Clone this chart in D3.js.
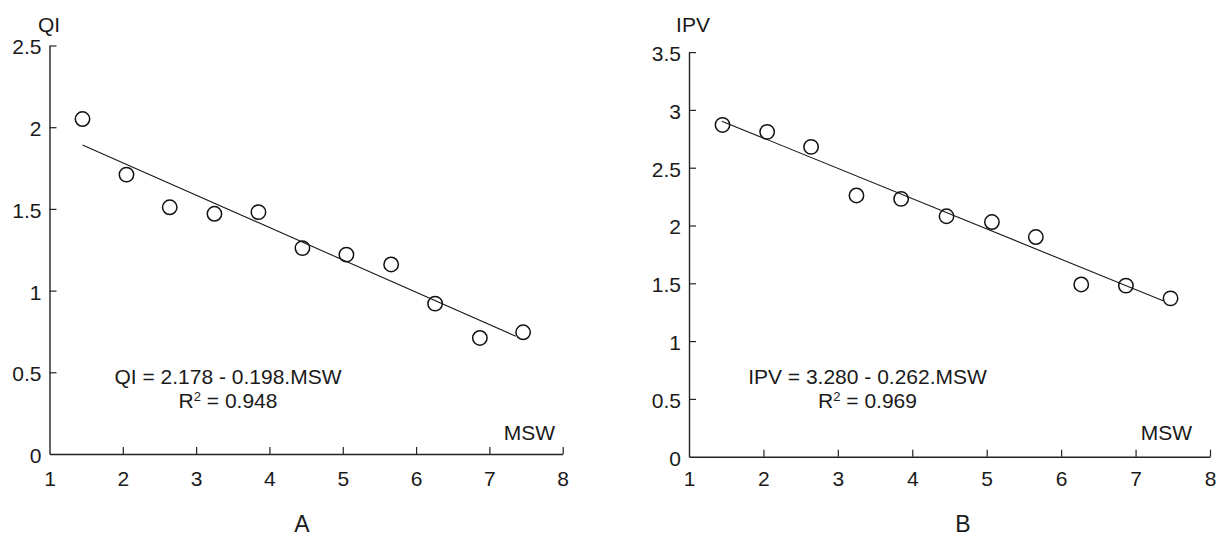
<!DOCTYPE html>
<html>
<head>
<meta charset="utf-8">
<script src="https://cdn.jsdelivr.net/npm/d3@7"></script>
<style>
  html, body { margin: 0; padding: 0; background: #fff; }
  svg { display: block; font-family: "Liberation Sans", Arial, sans-serif; }
  text { fill: #1a1a1a; }
</style>
</head>
<body>
<svg id="chart" width="1219" height="536"></svg>
<script>
// ---- data ----
const mswA = [1.45, 2.05, 2.64, 3.25, 3.85, 4.45, 5.05, 5.66, 6.26, 6.87, 7.46];
const qiValues = [2.05, 1.71, 1.51, 1.47, 1.48, 1.26, 1.22, 1.16, 0.92, 0.71, 0.745];
const mswB = [1.45, 2.05, 2.64, 3.25, 3.85, 4.46, 5.07, 5.66, 6.27, 6.87, 7.47];
const ipvValues = [2.87, 2.81, 2.68, 2.26, 2.23, 2.08, 2.03, 1.90, 1.49, 1.48, 1.37];
const xTicks = [1, 2, 3, 4, 5, 6, 7, 8];
const yTicksA = [0, 0.5, 1, 1.5, 2, 2.5];
const yTicksB = [0, 0.5, 1, 1.5, 2, 2.5, 3, 3.5];
const fitA = { a: 2.178, b: -0.198, from: 1.45, to: 7.36 };
const fitB = { a: 3.280, b: -0.262, from: 1.44, to: 7.37 };
const eqA = "QI = 2.178 - 0.198.MSW";
const r2A = "0.948";
const eqB = "IPV = 3.280 - 0.262.MSW";
const r2B = "0.969";

const svg = d3.select("#chart");
const FS = "21px";

function panel(cfg) {
  const x = d3.scaleLinear().domain([1, 8]).range(cfg.xRange);
  const y = d3.scaleLinear().domain(cfg.yDomain).range(cfg.yRange);
  const g = svg.append("g");

  const xAxis = d3.axisBottom(x).tickValues(xTicks).tickFormat(d3.format("d"))
    .tickSizeInner(-7).tickSizeOuter(0).tickPadding(cfg.xPad);
  const yAxis = d3.axisLeft(y).tickValues(cfg.yTicks).tickFormat(d => String(d))
    .tickSizeInner(-7).tickSizeOuter(0).tickPadding(8);

  const gx = g.append("g").attr("transform", `translate(0,${cfg.yRange[0]})`).call(xAxis);
  const gy = g.append("g").attr("transform", `translate(${cfg.xRange[0]},0)`).call(yAxis);
  [gx, gy].forEach(a => {
    a.selectAll("path.domain").attr("stroke", "#222").attr("stroke-width", 1.4);
    a.selectAll(".tick line").attr("stroke", "#222").attr("stroke-width", 1.2);
    a.selectAll(".tick text").style("font-size", FS).style("font-family", "Liberation Sans, Arial, sans-serif").attr("fill", "#1a1a1a");
  });
  gy.selectAll(".tick text").attr("dy", "0.40em");
  gx.selectAll(".tick").filter(d => d === 1).select("line").remove();
  gy.selectAll(".tick").filter(d => d === 0).select("line").remove();

  // regression line
  g.append("line")
    .attr("x1", x(cfg.fit.from)).attr("y1", y(cfg.fit.a + cfg.fit.b * cfg.fit.from))
    .attr("x2", x(cfg.fit.to)).attr("y2", y(cfg.fit.a + cfg.fit.b * cfg.fit.to))
    .attr("stroke", "#1a1a1a").attr("stroke-width", 1.1);

  // points
  g.selectAll("circle").data(cfg.xs.map((v, i) => [v, cfg.ys[i]])).join("circle")
    .attr("cx", d => x(d[0])).attr("cy", d => y(d[1])).attr("r", 7.2)
    .attr("fill", "none").attr("stroke", "#111").attr("stroke-width", 1.5);

  // axis labels
  g.append("text").attr("x", cfg.yLabelX).attr("y", 32).attr("text-anchor", "middle")
    .style("font-size", FS).text(cfg.yLabel);
  g.append("text").attr("x", cfg.mswX).attr("y", 440).attr("text-anchor", "end")
    .style("font-size", FS).text("MSW");

  // equation
  g.append("text").attr("x", cfg.eqX).attr("y", 384).attr("text-anchor", "middle")
    .style("font-size", FS).text(cfg.eq);
  const r = g.append("text").attr("x", cfg.eqX).attr("y", 408).attr("text-anchor", "middle")
    .style("font-size", FS);
  r.append("tspan").text("R");
  r.append("tspan").attr("dy", -7).style("font-size", "13px").text("2");
  r.append("tspan").attr("dy", 7).text(" = " + cfg.r2);

  // panel letter
  g.append("text").attr("x", cfg.letterX).attr("y", 532).attr("text-anchor", "middle")
    .style("font-size", "23px").text(cfg.letter);
}

panel({
  xRange: [49.5, 562.7], yDomain: [0, 2.5], yRange: [454, 45.5], yTicks: yTicksA,
  xPad: 17, xs: mswA, ys: qiValues, fit: fitA, yLabel: "QI", yLabelX: 49,
  mswX: 555, eq: eqA, r2: r2A, eqX: 228, letter: "A", letterX: 302
});
panel({
  xRange: [689, 1210], yDomain: [0, 3.5], yRange: [456.7, 52.1], yTicks: yTicksB,
  xPad: 14, xs: mswB, ys: ipvValues, fit: fitB, yLabel: "IPV", yLabelX: 693,
  mswX: 1192, eq: eqB, r2: r2B, eqX: 867.5, letter: "B", letterX: 963
});
</script>
</body>
</html>
